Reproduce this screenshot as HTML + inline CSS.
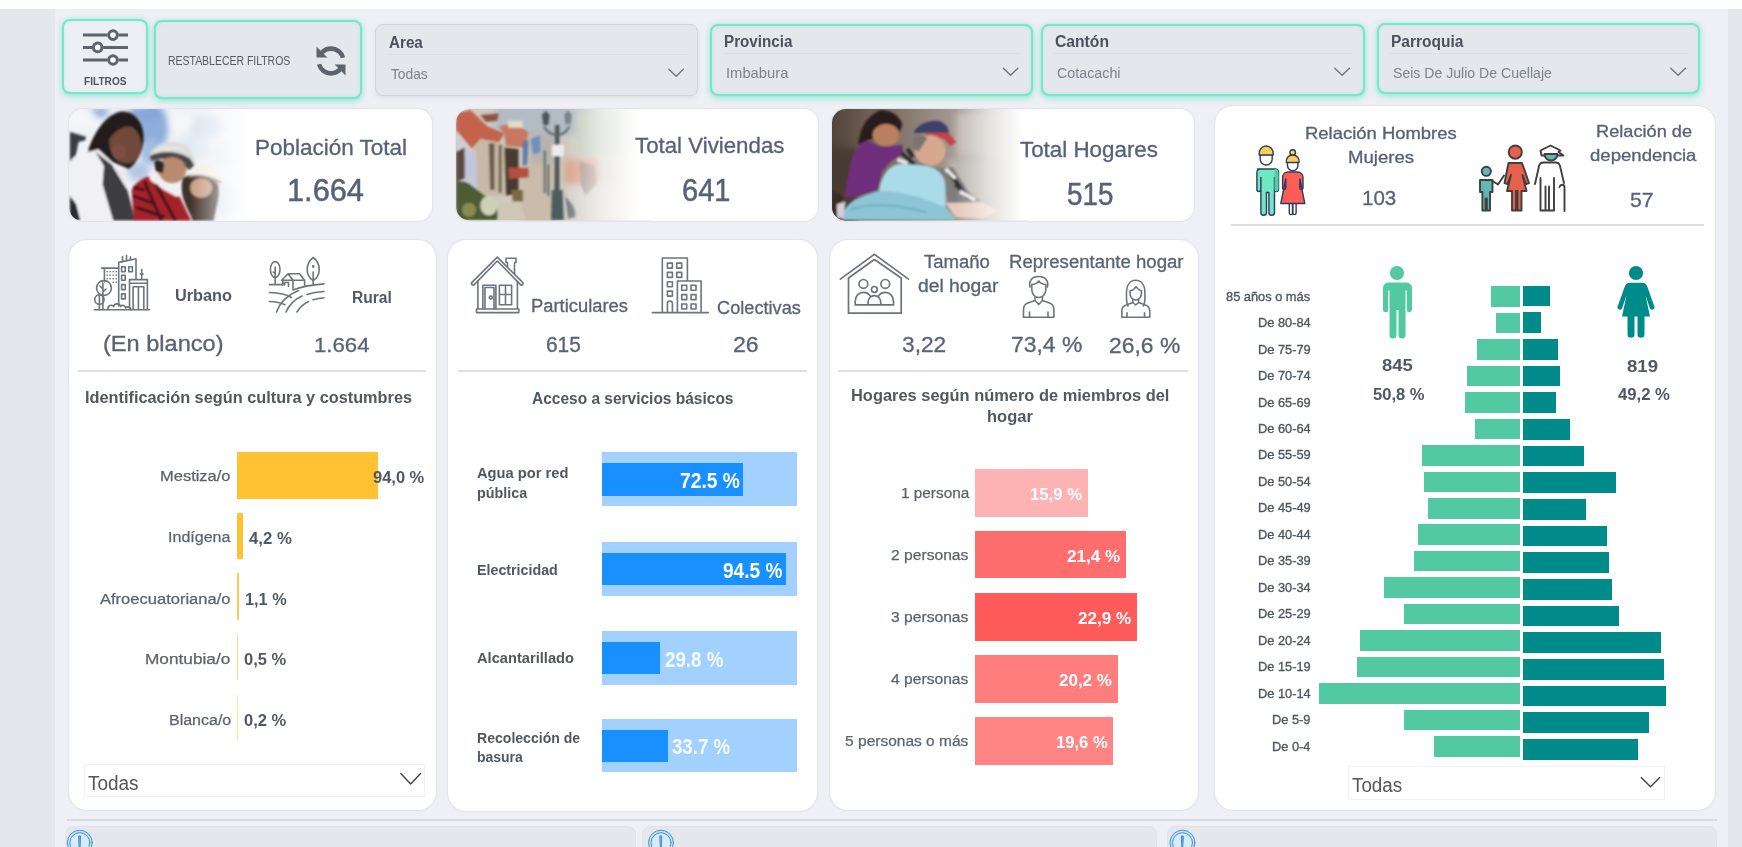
<!DOCTYPE html>
<html lang="es">
<head>
<meta charset="utf-8">
<title>Dashboard</title>
<style>
*{box-sizing:border-box;margin:0;padding:0}
html,body{width:1742px;height:847px;overflow:hidden;background:#eef0f5;font-family:"Liberation Sans",sans-serif;color:#525c69}
.abs{position:absolute}
#root{position:relative;width:1742px;height:847px;overflow:hidden;background:#eef0f5}
#topstrip{left:0;top:0;width:1742px;height:9px;background:#fff}
#leftm{left:0;top:9px;width:54.5px;height:838px;background:#e4e8ed}
#rightm{left:1728px;top:9px;width:14px;height:838px;background:#e4e8ed}
.fbox{position:absolute;border-radius:8px;background:#e4e7ec;border:2px solid #78e6ca;box-shadow:0 0 4px rgba(111,230,200,.5),0 3px 6px rgba(111,230,200,.5),inset 0 0 3px rgba(111,230,200,.35)}
.fbox.plain{border:1.5px solid #d0d4dd;box-shadow:0 2px 5px rgba(120,130,150,.15)}
.card{position:absolute;background:#fff;border-radius:14px;box-shadow:0 0 2px rgba(140,145,165,.4)}
.t{position:absolute;white-space:nowrap;line-height:1}
.c{transform:translateX(-50%)}
.b{font-weight:bold}
.hr{position:absolute;height:2px;background:#d9dce3}
.ftitle{position:absolute;font-weight:bold;font-size:16px;color:#4d5662;line-height:1;white-space:nowrap}
.fval{position:absolute;font-size:14px;color:#7a828d;line-height:1;white-space:nowrap}

</style>
</head>
<body>
<div id="root">
<div id="topstrip" class="abs"></div>
<div id="leftm" class="abs"></div>
<div id="rightm" class="abs"></div>

<!-- TOP BAR -->
<div class="fbox" id="b-filtros" style="left:62px;top:19px;width:86px;height:75px;background:#eceff3"></div>
<div class="fbox" id="b-rest" style="left:154px;top:20px;width:208px;height:79px"></div>
<div class="fbox plain" id="b-area" style="left:375px;top:23.5px;width:323.3px;height:72.8px"></div>
<div class="fbox" id="b-prov" style="left:710px;top:23.5px;width:323px;height:72px"></div>
<div class="fbox" id="b-cant" style="left:1041px;top:23.5px;width:323.5px;height:72px"></div>
<div class="fbox" id="b-parr" style="left:1377px;top:22.7px;width:323.3px;height:71.8px"></div>

<!-- KPI CARDS -->
<div class="card" id="k1" style="left:69px;top:109px;width:363px;height:112px"></div>
<div class="card" id="k2" style="left:456px;top:109px;width:362px;height:112px"></div>
<div class="card" id="k3" style="left:832px;top:109px;width:362px;height:112px"></div>

<!-- PANELS -->
<div class="card" id="p1" style="left:69px;top:240.4px;width:367.3px;height:570px;border-radius:18px"></div>
<div class="card" id="p2" style="left:448.4px;top:240.4px;width:368.8px;height:570.8px;border-radius:18px"></div>
<div class="card" id="p3" style="left:829.6px;top:240.4px;width:368px;height:569.2px;border-radius:18px"></div>
<div class="card" id="p4" style="left:1214.7px;top:105.6px;width:500.5px;height:704px;border-radius:18px"></div>

<!-- BOTTOM -->
<div class="abs" style="left:67px;top:818.6px;width:1650px;height:2px;background:#d6dae2"></div>
<div class="abs" style="left:65px;top:826px;width:571px;height:30px;background:#e4e7eb;border-radius:8px;border:1px solid #e0e3e8"></div>
<div class="abs" style="left:642px;top:826px;width:515px;height:30px;background:#e4e7eb;border-radius:8px;border:1px solid #e0e3e8"></div>
<div class="abs" style="left:1167px;top:826px;width:550px;height:30px;background:#e4e7eb;border-radius:8px;border:1px solid #e0e3e8"></div>

<!-- photo 1 -->
<svg class="abs" style="left:65px;top:105px;clip-path:inset(4px 0px 4px 4px round 14px 0 0 14px)" width="200" height="120" viewBox="0 0 1412 847" preserveAspectRatio="none">
<defs>
<filter id="bl1" x="-10%" y="-10%" width="120%" height="120%"><feGaussianBlur stdDeviation="6"/></filter>
<filter id="bl2" x="-10%" y="-10%" width="120%" height="120%"><feGaussianBlur stdDeviation="22"/></filter>
<filter id="bl3" x="-10%" y="-10%" width="120%" height="120%"><feGaussianBlur stdDeviation="9"/></filter>
<linearGradient id="fd1" x1="0" x2="1" y1="0" y2="0"><stop offset="0" stop-color="#fff" stop-opacity="0"/><stop offset=".5" stop-color="#fff" stop-opacity=".55"/><stop offset="1" stop-color="#fff"/></linearGradient>
</defs>
<rect x="0" y="0" width="1412" height="847" fill="#eef1f6"/>
<g filter="url(#bl2)">
<ellipse cx="620" cy="160" rx="110" ry="170" fill="#8eaedb"/><ellipse cx="560" cy="60" rx="120" ry="50" fill="#86a6d6"/>
<ellipse cx="240" cy="55" rx="70" ry="35" fill="#8aaad8"/>
<ellipse cx="610" cy="330" rx="80" ry="90" fill="#a3bce0"/>
<ellipse cx="520" cy="470" rx="80" ry="70" fill="#b4c8e4"/><ellipse cx="900" cy="300" rx="120" ry="90" fill="#e3eaf3"/><ellipse cx="1150" cy="350" rx="120" ry="90" fill="#e6ecf4"/>
<ellipse cx="1000" cy="150" rx="130" ry="80" fill="#dbe4f0"/>
<ellipse cx="820" cy="120" rx="90" ry="70" fill="#f4f6f9"/>
<ellipse cx="1100" cy="680" rx="130" ry="120" fill="#dfe6ef"/>
<ellipse cx="120" cy="110" rx="110" ry="80" fill="#f3f5f8"/>
</g>
<g filter="url(#bl3)">
<path d="M35 190L150 225L140 250L95 260L70 390L35 400z" fill="#3a3d43"/>
<path d="M35 640L80 700L110 815H35z" fill="#2b2b30"/>
<path d="M35 400C70 340 170 310 235 312L330 400L300 560L345 815H110L80 700L35 640z" fill="#f1f0f2"/>
<path d="M215 330L330 420L440 600L495 815H340L265 560L275 430z" fill="#3d3d43"/>
<path d="M330 420L400 470L470 700L440 600z" fill="#e9e6e6"/>
<path d="M160 330C200 200 290 60 400 45C500 45 560 130 555 240C550 330 500 420 450 450L330 400L235 312z" fill="#241d1b"/>
<ellipse cx="425" cy="275" rx="112" ry="140" fill="#70483a" transform="rotate(-12 425 275)"/>
<path d="M290 200C320 110 430 80 540 170C470 130 370 140 300 260z" fill="#241d1b"/>
<ellipse cx="380" cy="330" rx="50" ry="60" fill="#83574a" opacity=".6"/>
<path d="M600 360C600 300 700 250 790 262C870 275 925 350 915 420L850 470C800 400 680 370 615 395z" fill="#dcdcda"/>
<path d="M598 360C660 320 800 320 880 375L915 425L875 460C820 395 690 360 612 395z" fill="#3b3735" opacity=".9"/>
<path d="M640 320C700 270 800 275 860 330C790 305 700 305 640 345z" fill="#e4e4e2"/>
<ellipse cx="755" cy="460" rx="100" ry="92" fill="#b88b6f"/>
<path d="M630 400C650 380 690 390 700 420L690 480L640 470z" fill="#2c2624"/>
<path d="M470 600C500 540 560 510 600 500L720 610L810 650L890 815H485z" fill="#a5222b"/>
<path d="M590 480L640 470L720 560L770 620L800 610L790 650L700 600L600 530z" fill="#f0eeee"/>
<path d="M480 640L640 700M500 720L700 790M560 540L680 815M640 560L780 815M480 580L560 600" stroke="#2a1518" stroke-width="22" opacity=".8"/>
<path d="M830 520C880 470 1040 480 1080 560C1100 640 1060 740 1050 815H900C880 740 800 660 830 520z" fill="#3f3029"/>
<ellipse cx="960" cy="585" rx="78" ry="70" fill="#c79c82"/>
<path d="M900 470C920 410 1040 400 1060 460L1135 530C1140 550 1100 560 1060 540C1000 510 920 500 870 510z" fill="#f2eee4"/>
<path d="M880 500C940 480 1040 500 1110 545L1100 556C1030 520 940 505 876 515z" fill="#6a5a4e" opacity=".8"/>
</g>
<rect x="880" y="0" width="440" height="847" fill="url(#fd1)"/>
<rect x="1315" y="0" width="100" height="847" fill="#fff"/>
</svg>
<!-- photo 2 -->
<svg class="abs" style="left:452px;top:105px;clip-path:inset(4px 0px 4.5px 4px round 14px 0 0 14px)" width="200" height="120" viewBox="0 0 1412 847" preserveAspectRatio="none">
<defs><linearGradient id="fd2" x1="0" x2="1" y1="0" y2="0"><stop offset="0" stop-color="#fff" stop-opacity="0"/><stop offset=".45" stop-color="#fff" stop-opacity=".6"/><stop offset="1" stop-color="#fff"/></linearGradient></defs>
<rect x="0" y="0" width="1412" height="847" fill="#cfc9bf"/>
<g filter="url(#bl2)">
<rect x="300" y="0" width="700" height="210" fill="#b3bbc4"/>
<rect x="480" y="420" width="260" height="420" fill="#c9bcaa"/>
<rect x="800" y="380" width="240" height="190" fill="#dba08a"/>
<rect x="880" y="40" width="360" height="320" fill="#bfc6b6"/>
<rect x="800" y="560" width="400" height="280" fill="#d5d0c8"/>
<rect x="540" y="200" width="200" height="220" fill="#b9b3ad"/>
</g>
<g filter="url(#bl3)">
<path d="M30 60L130 35L250 150L370 200L330 265L200 240L140 310L30 180z" fill="#c3644b"/>
<path d="M200 70L330 60L320 110L240 120z" fill="#8a5544"/>
<path d="M330 150L440 130L540 190L520 300L380 290L370 200z" fill="#c87861"/>
<path d="M390 110H500V160H400z" fill="#e3dccb"/>
<path d="M30 180L140 310L130 540L30 540z" fill="#cdcdd2"/>
<path d="M30 330L90 300V520L30 540z" fill="#5a4a42"/>
<path d="M90 320L170 330L185 600L100 560z" fill="#c3c7dd"/>
<path d="M140 310L200 240L330 265L380 290L370 640L180 640L170 330z" fill="#c6baa6"/>
<path d="M260 270L300 270L300 600L270 600zM330 280L350 280L350 620L330 620z" fill="#6b5a4c"/>
<path d="M370 300L470 310L470 620L380 640z" fill="#4a3b32"/>
<path d="M400 440L540 445L540 510L400 520z" fill="#b4503f"/>
<path d="M30 540C120 520 160 600 250 650C300 640 330 700 320 812H30z" fill="#4e5b31"/>
<ellipse cx="260" cy="710" rx="60" ry="70" fill="#cdd2b6"/>
<ellipse cx="120" cy="740" rx="50" ry="50" fill="#8a8a52"/>
<path d="M330 700L480 680L520 812H330z" fill="#cfc6b6"/>
<path d="M420 600L500 600L500 680L430 680z" fill="#7a6a3e"/>
<path d="M555 240L620 215L625 330L575 350z" fill="#6c8fc3"/>
<path d="M500 250L540 250L530 420L500 430z" fill="#5d7aa8"/>
<path d="M728 140H758V812H722z" fill="#48555a"/>
<path d="M705 600L780 600L790 812H700z" fill="#4d5b5e"/>
<path d="M635 70L660 40L690 70L680 140H645z" fill="#4a5558"/>
<path d="M795 65L820 40L848 70L838 135H803z" fill="#737d7f"/>
<path d="M650 150C690 230 790 230 830 150" stroke="#5a6668" stroke-width="14" fill="none"/>
<rect x="705" y="280" width="86" height="80" fill="#ecece8"/>
<path d="M655 320V620M680 420V640" stroke="#4e5c5e" stroke-width="12"/>
<path d="M800 640C840 700 880 720 870 790L820 800z" fill="#59676a" opacity=".8"/>
<path d="M900 400L1010 430L1020 560L940 640L910 560z" fill="#8e8680" opacity=".7"/>
</g>
<rect x="800" y="0" width="520" height="847" fill="url(#fd2)"/>
<rect x="1315" y="0" width="100" height="847" fill="#fff"/>
</svg>
<!-- photo 3 -->
<svg class="abs" style="left:828px;top:105px;clip-path:inset(4px 0px 4.5px 4px round 14px 0 0 14px)" width="200" height="120" viewBox="0 0 1412 847" preserveAspectRatio="none">
<defs><linearGradient id="fd3" x1="0" x2="1" y1="0" y2="0"><stop offset="0" stop-color="#fff" stop-opacity="0"/><stop offset=".5" stop-color="#fff" stop-opacity=".6"/><stop offset="1" stop-color="#fff"/></linearGradient>
<linearGradient id="bg3" x1="0" x2="1" y1="0" y2="0"><stop offset="0" stop-color="#4f4036"/><stop offset=".3" stop-color="#7b6e63"/><stop offset=".6" stop-color="#a0968d"/><stop offset="1" stop-color="#c9c5c0"/></linearGradient></defs>
<rect x="0" y="0" width="1412" height="847" fill="url(#bg3)"/>
<g filter="url(#bl2)">
<rect x="0" y="300" width="200" height="540" fill="#4a3a31"/>
<rect x="850" y="380" width="400" height="300" fill="#b9b4ae"/>
<rect x="900" y="60" width="400" height="300" fill="#bfb9b1"/>
</g>
<g filter="url(#bl3)">
<path d="M215 280C220 180 260 90 360 38C440 30 500 70 525 135L500 210L300 240z" fill="#2b1f1b"/>
<ellipse cx="410" cy="212" rx="95" ry="78" fill="#b9805f"/>
<path d="M290 150C330 80 450 70 510 130C450 110 370 120 300 190z" fill="#2b1f1b"/>
<path d="M115 650L160 400C200 300 240 260 270 250L380 295L525 280L532 345L440 400L380 470L350 600L200 645z" fill="#6f2f7b"/>
<path d="M605 200C620 140 720 100 790 115C840 135 860 180 850 205L700 195z" fill="#3d4168"/>
<path d="M690 200L850 195L905 262L862 292L820 238L700 232z" fill="#c8424a"/>
<ellipse cx="722" cy="322" rx="108" ry="108" fill="#d8a88e"/>
<path d="M600 230C620 210 690 215 700 235L640 330L600 300z" fill="#7a7470"/>
<path d="M470 400L570 300L640 400L760 445L880 440L1000 620L1085 680L850 705L800 520L640 430z" fill="#807d7b"/>
<path d="M520 340L610 420M850 470L950 600M900 560L1000 660M560 310L600 370" stroke="#2a2a2c" stroke-width="30"/>
<path d="M490 385L560 410M830 450L900 520M930 610L1040 670" stroke="#ebebeb" stroke-width="24"/>
<path d="M360 610C380 480 440 420 520 415L700 430C780 450 830 500 828 580L830 720L360 640z" fill="#aadbe8"/>
<path d="M100 812C110 720 150 680 250 640L350 608C450 600 560 630 640 650L830 720L905 812z" fill="#8dc5d6"/>
<path d="M150 740C300 690 500 700 700 760" stroke="#6fb0c4" stroke-width="14" fill="none"/>
<path d="M830 690L1100 688L1200 750L1100 800L900 792z" fill="#e4c9bc"/>
<path d="M30 600L110 650L60 812H30z" fill="#392c26"/>
<path d="M62 700L125 680L110 800L65 800z" fill="#d6cbd6"/>
</g>
<rect x="900" y="0" width="480" height="847" fill="url(#fd3)"/>
<rect x="1375" y="0" width="40" height="847" fill="#fff"/>
</svg>

<div class="abs" style="left:77.6px;top:370.0px;width:348.5px;height:2.0px;background:#dcdfe6;"></div>
<div class="abs" style="left:457.8px;top:370.0px;width:349.2px;height:2.0px;background:#dcdfe6;"></div>
<div class="abs" style="left:837.8px;top:370.0px;width:350.2px;height:2.0px;background:#dcdfe6;"></div>
<div class="abs" style="left:1231.0px;top:224.0px;width:472.9px;height:2.0px;background:#dcdfe6;"></div>
<div class="abs" style="left:388.0px;top:53.5px;width:298.5px;height:1.0px;background:#dcdfe5;"></div>
<div class="abs" style="left:723.0px;top:52.5px;width:298.0px;height:1.0px;background:#dcdfe5;"></div>
<div class="abs" style="left:1054.0px;top:52.5px;width:299.0px;height:1.0px;background:#dcdfe5;"></div>
<div class="abs" style="left:1390.0px;top:52.5px;width:299.0px;height:1.0px;background:#dcdfe5;"></div>
<div class="abs" style="left:237.3px;top:452.2px;width:140.3px;height:46.5px;background:#ffc233;"></div>
<div class="abs" style="left:237.3px;top:513.0px;width:6.2px;height:46.4px;background:#ffc233;"></div>
<div class="abs" style="left:237.3px;top:573.3px;width:2.0px;height:46.3px;background:#ffcb55;"></div>
<div class="abs" style="left:237.3px;top:634.3px;width:1.0px;height:45.6px;background:#ffd980;"></div>
<div class="abs" style="left:237.3px;top:694.9px;width:0.7px;height:46.0px;background:#ffe6a8;"></div>
<div class="abs" style="left:84.0px;top:764.0px;width:340.6px;height:33.3px;background:#fff;border:1px solid #f1f1f1;"></div>
<div class="abs" style="left:602.0px;top:452.2px;width:195.1px;height:53.8px;background:#a3d1ff;"></div>
<div class="abs" style="left:602.0px;top:463.4px;width:141.4px;height:32.2px;background:#1890ff;"></div>
<div class="abs" style="left:602.0px;top:542.0px;width:195.1px;height:53.8px;background:#a3d1ff;"></div>
<div class="abs" style="left:602.0px;top:553.2px;width:184.4px;height:32.2px;background:#1890ff;"></div>
<div class="abs" style="left:602.0px;top:630.8px;width:195.1px;height:53.8px;background:#a3d1ff;"></div>
<div class="abs" style="left:602.0px;top:642.0px;width:58.1px;height:32.2px;background:#1890ff;"></div>
<div class="abs" style="left:602.0px;top:718.5px;width:195.1px;height:53.8px;background:#a3d1ff;"></div>
<div class="abs" style="left:602.0px;top:729.7px;width:65.7px;height:32.2px;background:#1890ff;"></div>
<div class="abs" style="left:975.0px;top:469.0px;width:112.8px;height:47.6px;background:#fdb3b3;"></div>
<div class="abs" style="left:975.0px;top:530.8px;width:151.2px;height:47.6px;background:#ff6e6e;"></div>
<div class="abs" style="left:975.0px;top:593.0px;width:162.0px;height:47.6px;background:#ff5b5b;"></div>
<div class="abs" style="left:975.0px;top:655.1px;width:142.7px;height:47.6px;background:#ff7d7d;"></div>
<div class="abs" style="left:975.0px;top:717.3px;width:138.4px;height:47.6px;background:#ff8585;"></div>
<div class="abs" style="left:1491.4px;top:286.2px;width:28.6px;height:20.5px;background:#52c9a1;"></div>
<div class="abs" style="left:1523.2px;top:285.6px;width:26.4px;height:20.8px;background:#008b8b;"></div>
<div class="abs" style="left:1495.8px;top:312.7px;width:24.2px;height:20.5px;background:#52c9a1;"></div>
<div class="abs" style="left:1523.2px;top:312.3px;width:17.6px;height:20.8px;background:#008b8b;"></div>
<div class="abs" style="left:1477.1px;top:339.1px;width:42.9px;height:20.5px;background:#52c9a1;"></div>
<div class="abs" style="left:1523.2px;top:338.9px;width:34.8px;height:20.8px;background:#008b8b;"></div>
<div class="abs" style="left:1467.2px;top:365.6px;width:52.8px;height:20.5px;background:#52c9a1;"></div>
<div class="abs" style="left:1523.2px;top:365.6px;width:36.6px;height:20.8px;background:#008b8b;"></div>
<div class="abs" style="left:1465.0px;top:392.1px;width:55.0px;height:20.5px;background:#52c9a1;"></div>
<div class="abs" style="left:1523.2px;top:392.3px;width:32.9px;height:20.8px;background:#008b8b;"></div>
<div class="abs" style="left:1475.3px;top:418.5px;width:44.7px;height:20.5px;background:#52c9a1;"></div>
<div class="abs" style="left:1523.2px;top:419.0px;width:46.9px;height:20.8px;background:#008b8b;"></div>
<div class="abs" style="left:1422.2px;top:445.0px;width:97.8px;height:20.5px;background:#52c9a1;"></div>
<div class="abs" style="left:1523.2px;top:445.6px;width:61.1px;height:20.8px;background:#008b8b;"></div>
<div class="abs" style="left:1424.0px;top:471.5px;width:96.0px;height:20.5px;background:#52c9a1;"></div>
<div class="abs" style="left:1523.2px;top:472.3px;width:92.6px;height:20.8px;background:#008b8b;"></div>
<div class="abs" style="left:1428.4px;top:498.0px;width:91.6px;height:20.5px;background:#52c9a1;"></div>
<div class="abs" style="left:1523.2px;top:499.0px;width:62.6px;height:20.8px;background:#008b8b;"></div>
<div class="abs" style="left:1418.2px;top:524.4px;width:101.8px;height:20.5px;background:#52c9a1;"></div>
<div class="abs" style="left:1523.2px;top:525.6px;width:83.6px;height:20.8px;background:#008b8b;"></div>
<div class="abs" style="left:1414.3px;top:550.9px;width:105.7px;height:20.5px;background:#52c9a1;"></div>
<div class="abs" style="left:1523.2px;top:552.3px;width:85.7px;height:20.8px;background:#008b8b;"></div>
<div class="abs" style="left:1383.8px;top:577.4px;width:136.2px;height:20.5px;background:#52c9a1;"></div>
<div class="abs" style="left:1523.2px;top:579.0px;width:88.8px;height:20.8px;background:#008b8b;"></div>
<div class="abs" style="left:1404.2px;top:603.8px;width:115.8px;height:20.5px;background:#52c9a1;"></div>
<div class="abs" style="left:1523.2px;top:605.6px;width:95.7px;height:20.8px;background:#008b8b;"></div>
<div class="abs" style="left:1359.5px;top:630.3px;width:160.5px;height:20.5px;background:#52c9a1;"></div>
<div class="abs" style="left:1523.2px;top:632.3px;width:137.8px;height:20.8px;background:#008b8b;"></div>
<div class="abs" style="left:1357.1px;top:656.8px;width:162.9px;height:20.5px;background:#52c9a1;"></div>
<div class="abs" style="left:1523.2px;top:659.0px;width:141.3px;height:20.8px;background:#008b8b;"></div>
<div class="abs" style="left:1318.5px;top:683.2px;width:201.5px;height:20.5px;background:#52c9a1;"></div>
<div class="abs" style="left:1523.2px;top:685.7px;width:143.2px;height:20.8px;background:#008b8b;"></div>
<div class="abs" style="left:1404.2px;top:709.7px;width:115.8px;height:20.5px;background:#52c9a1;"></div>
<div class="abs" style="left:1523.2px;top:712.3px;width:125.4px;height:20.8px;background:#008b8b;"></div>
<div class="abs" style="left:1434.4px;top:736.2px;width:85.6px;height:20.5px;background:#52c9a1;"></div>
<div class="abs" style="left:1523.2px;top:739.0px;width:115.0px;height:20.8px;background:#008b8b;"></div>
<div class="abs" style="left:1347.5px;top:766.0px;width:317.2px;height:33.8px;background:#fff;border:1px solid #f1f1f1;"></div>
<svg class="abs" style="left:0;top:0" width="1742" height="847" viewBox="0 0 1742 847" fill="none" stroke-linecap="round" stroke-linejoin="round">
<!-- filtros sliders -->
<g stroke="#5c636d" stroke-width="3" stroke-linecap="butt">
<path d="M83 35.1H107.5M118.5 35.1H128M83 47.4H92.2M103.2 47.4H128M83 60H107.5M118.5 60H128"/>
<circle cx="113" cy="35.1" r="4.3" fill="#fbfcfd"/><circle cx="97.7" cy="47.4" r="4.3" fill="#fbfcfd"/><circle cx="113" cy="60" r="4.3" fill="#fbfcfd"/>
</g>
<!-- refresh -->
<g id="refresh" fill="#5d646e" stroke="none">
<path d="M331 46.3a14.6 14.6 0 0 1 14.1 10.9l-4.3 1.1a10.2 10.2 0 0 0-17-4.4l3.6 3.6h-10.9v-10.9l4.1 4.1a14.6 14.6 0 0 1 10.4-4.4z"/>
<path d="M331 75.7a14.6 14.6 0 0 1-14.1-10.9l4.3-1.1a10.2 10.2 0 0 0 17 4.4l-3.6-3.6h10.9v10.9l-4.1-4.1a14.6 14.6 0 0 1-10.4 4.4z"/>
</g>
<!-- chevrons top -->
<g stroke="#6a717b" stroke-width="1.3">
<path d="M668.8 69.2l7.3 7 7.3-7"/>
<path d="M1003.3 68.2l7.3 7 7.3-7"/>
<path d="M1334.8 68.2l7.3 7 7.3-7"/>
<path d="M1670.8 68.2l7.3 7 7.3-7"/>
</g>
<g stroke="#444" stroke-width="1.4">
<path d="M400.8 773.5l9.9 10.5 9.9-10.5"/>
<path d="M1641.3 777.5l9.200 9.200 9.200-9.200"/>
</g>
<!-- urban -->
<g stroke="#6e747d" stroke-width="1.6">
<path d="M94.3 309.7H149.6"/>
<path d="M101.5 268.1H118.7M104.4 268.1V282"/>
<path d="M118.7 306V262.4L136 258.8V279M122.5 262V256.5M126.5 261V255.5M130.5 260V257"/>
<path d="M129.5 309V279.6H147.4V309M129.5 283.2H147.4M133.1 309V286.7H143.8V309M138.4 286.7V309M141.7 279.6V269.5M140.2 274H143.2"/>
<rect x="121.6" y="266.7" width="3.6" height="5"/><rect x="128.8" y="266.7" width="3.6" height="5"/>
<rect x="121.6" y="275.3" width="3.6" height="5"/><rect x="121.6" y="284.6" width="3.6" height="5"/><rect x="121.6" y="293.9" width="3.6" height="5"/>
<circle cx="104" cy="288" r="7.4"/><circle cx="99.4" cy="299.6" r="4.7"/>
<path d="M102.9 283V309.7M99.4 296V309.7M102.9 292l3-3M102.9 289l-3-3"/>
<path d="M108 309.5c-0.5-4 4-5.5 5.5-3c1-3.5 6-3.5 7 0c2-2 5-1 5 1.5c2-2 5.5-1 5 1.5"/>
</g>
<g fill="#6b727b" stroke="none">
<rect x="106.5" y="271" width="1.4" height="1.4"/><rect x="109.5" y="271" width="1.4" height="1.4"/><rect x="112.5" y="271" width="1.4" height="1.4"/><rect x="115.5" y="271" width="1.4" height="1.4"/>
<rect x="106.5" y="274.5" width="1.4" height="1.4"/><rect x="109.5" y="274.5" width="1.4" height="1.4"/><rect x="112.5" y="274.5" width="1.4" height="1.4"/><rect x="115.5" y="274.5" width="1.4" height="1.4"/>
<rect x="106.5" y="278" width="1.4" height="1.4"/><rect x="109.5" y="278" width="1.4" height="1.4"/><rect x="112.5" y="278" width="1.4" height="1.4"/><rect x="115.5" y="278" width="1.4" height="1.4"/>
<rect x="112.5" y="281.5" width="1.4" height="1.4"/><rect x="115.5" y="281.5" width="1.4" height="1.4"/>
</g>
<!-- rural -->
<g stroke="#6e747d" stroke-width="1.6">
<ellipse cx="275.2" cy="269.5" rx="4.8" ry="7.9"/><path d="M275.2 267V284M275.2 274l-2-2"/>
<path d="M313.2 257.5c8 6 8 18 0 23c-8-5-8-17 0-23z"/><path d="M313.2 272V284.5"/><circle cx="313.2" cy="266.5" r="0.6"/>
<path d="M281.6 280.3L288.1 273.8H299.6L304.6 280.3M288.1 273.8L293 280.3V289M281.6 280.3H304.6M282.8 280.3V285M304.6 280.3V286M284.5 285V282.5H288.5V286.5"/>
<path d="M269.4 284.6H282.8M293 290C302 286.5 313 284.8 324 283.9"/>
<path d="M269.4 292.5c9 .2 16.5 1.5 22 5M269.4 301.5c6 .2 11 1 15.5 3.2"/>
<path d="M276.5 312c3.5-9.5 11-17 22-21.5M286 312c3-7 8.500-12.500 16-16M307 294.500c5-1.500 10.500-2.500 17-3M297 312c2.500-4.500 6.500-8 11.500-10.500M313 299.800c3.500-1 7-1.700 11-2"/>
</g>
<!-- house (particulares) -->
<g stroke="#6e747d" stroke-width="1.6">
<path d="M474.2 284.600L497.3 261L520.400 284.600a1.500 1.500 0 0 0 2.200-2.200L497.300 257.100L472 282.400a1.500 1.500 0 0 0 2.200 2.200z"/>
<path d="M477.900 281V309M517.400 281.500V309M476.500 309H518.800V312.600H476.500z"/>
<path d="M507.500 266.500V262.500H506V258.200H516V262.500H514.500V273.500"/>
<path d="M482.900 309V285.300H495.900V309M485 309V287.500H494V309"/><circle cx="490.800" cy="297.500" r="1.500"/>
<path d="M499.400 285.300H511.600V304.700H499.400zM505.500 285.300V304.700M499.400 294.500H511.600"/>
</g>
<!-- buildings (colectivas) -->
<g stroke="#6e747d" stroke-width="1.6">
<path d="M652.3 312.600H708.300M662.300 312.600V258H687.400V281M677.400 312.600V281H701.100V312.600M667.400 312.600V303.500a2.500 2.500 0 0 1 5 0V312.600"/>
<rect x="667.400" y="263.100" width="5" height="5"/><rect x="676.700" y="263.100" width="5" height="5"/>
<rect x="667.400" y="272.400" width="5" height="5"/><rect x="676.700" y="272.400" width="5" height="5"/>
<rect x="667.400" y="281.700" width="5" height="5"/><rect x="667.400" y="291.100" width="5" height="5"/>
<rect x="681.700" y="285.300" width="5" height="5"/><rect x="691" y="285.300" width="5" height="5"/>
<rect x="681.700" y="294.600" width="5" height="5"/><rect x="691" y="294.600" width="5" height="5"/>
<rect x="681.700" y="304" width="5" height="5"/><rect x="691" y="304" width="5" height="5"/>
</g>
<!-- family house -->
<g stroke="#6e747d" stroke-width="1.7">
<path d="M840.300 279.100L874.400 254.300L908.500 279.100M848.500 278V313.200H901.200V278M848.500 278L874.400 259.500L901.200 278"/>
<circle cx="863.400" cy="283.900" r="4.400"/><circle cx="885.300" cy="283.900" r="4.400"/><circle cx="874.400" cy="289.400" r="2.900"/>
<path d="M855.200 304.900v-3.500c0-5.500 3.700-9 8.200-9c3 0 5.600 1.500 7 4M893.500 304.900v-3.500c0-5.500-3.700-9-8.200-9c-3 0-5.600 1.500-7 4M868 304.900v-2.500c0-4 2.900-6.800 6.400-6.800s6.400 2.800 6.400 6.800v2.500M855.200 304.900H893.500"/>
</g>
<!-- man bust -->
<g stroke="#6e747d" stroke-width="1.6">
<path d="M1030 287c-1.500-6 2-10.500 8.700-10.500s10.200 4.500 8.700 10.500"/>
<path d="M1031.800 284.500c3 0 5.500-1.500 7-3.500c1.500 2 4 3.500 7 3.500v5c0 4.500-3 8-7 8s-7-3.500-7-8z"/>
<path d="M1035 297v3.500l3.700 4l3.700-4V297M1035 300.500l-7 2.500c-3 1-4.500 3.500-4.500 6.500v7.800h30.400v-7.800c0-3-1.500-5.500-4.500-6.500l-7-2.500M1029.500 317v-5M1048 317v-5"/>
</g>
<!-- woman bust -->
<g stroke="#6e747d" stroke-width="1.6">
<path d="M1128 306c-2-3-1.500-8-1.500-13c0-8 3.500-12.800 9.200-12.800s9.200 4.800 9.200 12.800c0 5 .5 10-1.500 13"/>
<path d="M1130 291c2.500-.5 5-2.500 6-4.500c1 2 3 3.500 5.500 4.200v2.300c0 4-2.500 7-5.800 7s-5.700-3-5.700-7z"/>
<path d="M1132.800 299.500v3l2.900 2.500l2.900-2.500v-3M1132.800 302.500l-6.500 2.500c-3 1-4.500 3.500-4.500 6.300v6h28v-6c0-2.800-1.500-5.300-4.500-6.300l-6.500-2.500M1127 317.300v-4.500M1144.500 317.300v-4.500"/>
</g>
<!-- man+woman colored -->
<g stroke="#2f3b5c" stroke-width="1.400">
<path d="M1257.500 169h17.500a3.500 3.500 0 0 1 3.500 3.500v17a2 2 0 0 1-4 0v-12v35a2.800 2.800 0 0 1-5.600 0v-20h-2.400v20a2.800 2.800 0 0 1-5.600 0v-35v12a2 2 0 0 1-4 0v-17a3.500 3.500 0 0 1 3.500-3.500z" fill="#6ee8c3"/>
<path d="M1274.500 169h0.500a3.500 3.500 0 0 1 3.500 3.500v17a2 2 0 0 1-4 0z" fill="#4fcfa8" stroke="none"/>
<path d="M1260.200 154.500v4.500a6 6 0 0 0 12 0v-4.500z" fill="#fff"/>
<path d="M1259.200 155c-.5-5 2.500-9 7-9s7.500 4 7 9z" fill="#f7d154"/>
<path d="M1287.500 162v3.500a5.200 5.200 0 0 0 10.400 0V162z" fill="#fff"/>
<circle cx="1292.700" cy="152.500" r="2.800" fill="#f7d154"/>
<path d="M1286.300 162.500c-.5-4.500 2.500-7.500 6.400-7.500s6.900 3 6.400 7.500z" fill="#f7d154"/>
<path d="M1289.300 203.500v9.500a1.600 1.600 0 0 0 3.200 0v-9.500M1292.900 203.500v9.500a1.600 1.600 0 0 0 3.200 0v-9.500" fill="#fff"/>
<path d="M1288 172h9.500c3.500 0 5.500 2.500 5.500 5.500v10.500a1.600 1.600 0 0 1-3.200 0v-9l5 24.500h-24l5-24.500v9a1.600 1.600 0 0 1-3.200 0v-10.500c0-3 2-5.500 5.400-5.500z" fill="#ff5e57"/>
</g>
<!-- dependency -->
<g stroke="#3f3f3f" stroke-width="1.900">
<circle cx="1486.300" cy="171.300" r="4.600" fill="#5fb8b3"/>
<path d="M1480 180h12.500v12h-2.500v18.500h-3.200v-12h-1.200v12h-3.200v-18.500h-2.400z" fill="#5fb8b3"/>
<path d="M1492.500 181l5.500 3.500l6-9" fill="none"/>
<circle cx="1515.300" cy="152.100" r="6.600" fill="#e8604c"/>
<path d="M1508.500 163h13.500l7 20l-3 1l-3.500-9l4 16h-5v19.500h-4v-19.500h-1.500v19.500h-4v-19.500h-5l4-16l-3.500 9l-3-1z" fill="#e8604c"/>
<path d="M1540.500 150.500l10-5l10 5l-2 1.500l5 3.500h-22z" fill="#fff"/>
<path d="M1544.500 154a6.500 6.500 0 0 0 13 0z" fill="#5fb8b3"/>
<path d="M1535 184l4-18c.5-2 2-3.500 4.500-3.500h12c2.500 0 4 1.500 4.500 3.500l4 17M1540.500 178v32.500h5v-24M1545.500 210.500h3.500M1549 186.500v24h5v-32.500" fill="none"/>
<path d="M1559.500 187c1-3 5-3 5 .5v23.500" fill="none"/>
</g>
<!-- male pictogram -->
<g fill="#52c9a1" stroke="none">
<circle cx="1397" cy="273" r="7.1"/>
<path d="M1387.500 282.500h19a5.500 5.500 0 0 1 5.500 5.500v21.500a2.600 2.600 0 0 1-5.200 0v-19h-1.300v44.500a3.500 3.500 0 0 1-7 0v-25h-2v25a3.500 3.500 0 0 1-7 0v-44.500h-1.300v19a2.600 2.600 0 0 1-5.200 0v-21.500a5.500 5.500 0 0 1 5.500-5.500z"/>
</g>
<!-- female pictogram -->
<g fill="#008b8b" stroke="none">
<circle cx="1636" cy="273" r="7.1"/>
<path d="M1630 282.7H1642C1644.8 282.7 1646.6 284.3 1647.4 286.9L1654.4 306.4A2.4 2.4 0 0 1 1649.8 307.9L1645.5 295.4L1650 316.500H1644.500V334.300A3.500 3.500 0 0 1 1637.500 334.300V316.500H1634.500V334.300A3.500 3.500 0 0 1 1627.500 334.300V316.500H1622L1626.500 295.400L1622.200 307.900A2.400 2.400 0 0 1 1617.600 306.400L1624.600 286.900C1625.400 284.300 1627.200 282.700 1630 282.700Z"/>
</g>
<!-- info icons -->
<g stroke="#4a8fc9" stroke-width="1">
<circle cx="79.800" cy="842.700" r="12.500" fill="#bfe4fb"/><circle cx="79.800" cy="842.700" r="10" fill="#d4ecfc"/>
<circle cx="661" cy="842.700" r="12.500" fill="#bfe4fb"/><circle cx="661" cy="842.700" r="10" fill="#d4ecfc"/>
<circle cx="1182.500" cy="842.700" r="12.500" fill="#bfe4fb"/><circle cx="1182.500" cy="842.700" r="10" fill="#d4ecfc"/>
<path d="M79 836h1.600l-.5 11h-.6zM660.200 836h1.600l-.5 11h-.6zM1181.700 836h1.600l-.5 11h-.6z" fill="#5aa0d8"/>
</g>

</svg>

<div class="t" style="left:83.5px;top:75.7px;font-size:11px;transform:scaleX(0.919);transform-origin:0 0;font-weight:bold;color:#4d5560;">FILTROS</div>
<div class="t" style="left:168.4px;top:54.7px;font-size:12px;transform:scaleX(0.872);transform-origin:0 0;color:#555d68;">RESTABLECER FILTROS</div>
<div class="t" style="left:388.5px;top:35.1px;font-size:16px;transform:scaleX(0.951);transform-origin:0 0;font-weight:bold;color:#4a525d;">Area</div>
<div class="t" style="left:390.7px;top:66.8px;font-size:14px;transform:scaleX(0.982);transform-origin:0 0;color:#7b838e;">Todas</div>
<div class="t" style="left:723.5px;top:34.1px;font-size:16px;transform:scaleX(0.949);transform-origin:0 0;font-weight:bold;color:#4a525d;">Provincia</div>
<div class="t" style="left:725.5px;top:65.8px;font-size:14px;transform:scaleX(1.055);transform-origin:0 0;color:#7b838e;">Imbabura</div>
<div class="t" style="left:1054.5px;top:34.1px;font-size:16px;transform:scaleX(0.980);transform-origin:0 0;font-weight:bold;color:#4a525d;">Cantón</div>
<div class="t" style="left:1056.5px;top:65.8px;font-size:14px;transform:scaleX(1.020);transform-origin:0 0;color:#7b838e;">Cotacachi</div>
<div class="t" style="left:1391.0px;top:34.1px;font-size:16px;transform:scaleX(0.969);transform-origin:0 0;font-weight:bold;color:#4a525d;">Parroquia</div>
<div class="t" style="left:1392.5px;top:65.8px;font-size:14px;transform:scaleX(1.006);transform-origin:0 0;color:#7b838e;">Seis De Julio De Cuellaje</div>
<div class="t" style="left:255.2px;top:138.1px;font-size:21.5px;transform:scaleX(1.046);transform-origin:0 0;color:#56627a;-webkit-text-stroke:0.3px #56627a;">Población Total</div>
<div class="t" style="left:286.9px;top:175.2px;font-size:31px;transform:scaleX(0.992);transform-origin:0 0;color:#56627a;-webkit-text-stroke:0.5px #56627a;">1.664</div>
<div class="t" style="left:634.8px;top:135.9px;font-size:21.5px;transform:scaleX(1.036);transform-origin:0 0;color:#56627a;-webkit-text-stroke:0.3px #56627a;">Total Viviendas</div>
<div class="t" style="left:682.3px;top:175.2px;font-size:31px;transform:scaleX(0.937);transform-origin:0 0;color:#56627a;-webkit-text-stroke:0.5px #56627a;">641</div>
<div class="t" style="left:1020.0px;top:140.3px;font-size:21.5px;transform:scaleX(1.040);transform-origin:0 0;color:#56627a;-webkit-text-stroke:0.3px #56627a;">Total Hogares</div>
<div class="t" style="left:1067.4px;top:178.9px;font-size:31px;transform:scaleX(0.898);transform-origin:0 0;color:#56627a;-webkit-text-stroke:0.5px #56627a;">515</div>
<div class="t" style="left:1305.1px;top:124.7px;font-size:16.5px;transform:scaleX(1.118);transform-origin:0 0;color:#56627a;-webkit-text-stroke:0.3px #56627a;">Relación Hombres</div>
<div class="t" style="left:1347.8px;top:149.4px;font-size:16.5px;transform:scaleX(1.125);transform-origin:0 0;color:#56627a;-webkit-text-stroke:0.3px #56627a;">Mujeres</div>
<div class="t" style="left:1362.0px;top:187.4px;font-size:21px;transform:scaleX(0.978);transform-origin:0 0;color:#56627a;-webkit-text-stroke:0.3px #56627a;">103</div>
<div class="t" style="left:1595.5px;top:122.7px;font-size:16.5px;transform:scaleX(1.102);transform-origin:0 0;color:#56627a;-webkit-text-stroke:0.3px #56627a;">Relación de</div>
<div class="t" style="left:1589.9px;top:147.4px;font-size:16.5px;transform:scaleX(1.126);transform-origin:0 0;color:#56627a;-webkit-text-stroke:0.3px #56627a;">dependencia</div>
<div class="t" style="left:1629.8px;top:189.3px;font-size:21px;transform:scaleX(1.012);transform-origin:0 0;color:#56627a;-webkit-text-stroke:0.3px #56627a;">57</div>
<div class="t" style="left:175.3px;top:287.5px;font-size:16px;transform:scaleX(1.018);transform-origin:0 0;font-weight:bold;color:#505863;">Urbano</div>
<div class="t" style="left:351.7px;top:289.6px;font-size:16px;transform:scaleX(0.974);transform-origin:0 0;font-weight:bold;color:#505863;">Rural</div>
<div class="t" style="left:103.1px;top:334.0px;font-size:21.5px;transform:scaleX(1.096);transform-origin:0 0;color:#586374;-webkit-text-stroke:0.3px #586374;">(En blanco)</div>
<div class="t" style="left:313.5px;top:334.4px;font-size:21px;transform:scaleX(1.057);transform-origin:0 0;color:#586374;-webkit-text-stroke:0.3px #586374;">1.664</div>
<div class="t" style="left:85.4px;top:390.1px;font-size:16px;transform:scaleX(1.019);transform-origin:0 0;font-weight:bold;color:#505863;">Identificación según cultura y costumbres</div>
<div class="t" style="left:160.2px;top:467.9px;font-size:15.5px;transform:scaleX(1.063);transform-origin:0 0;color:#5b636e;-webkit-text-stroke:0.25px #5b636e;">Mestiza/o</div>
<div class="t" style="left:372.5px;top:469.8px;font-size:16px;transform:scaleX(1.029);transform-origin:0 0;font-weight:bold;color:#505863;">94,0 %</div>
<div class="t" style="left:168.2px;top:529.3px;font-size:15.5px;transform:scaleX(1.035);transform-origin:0 0;color:#5b636e;-webkit-text-stroke:0.25px #5b636e;">Indígena</div>
<div class="t" style="left:249.3px;top:530.5px;font-size:16px;transform:scaleX(1.047);transform-origin:0 0;font-weight:bold;color:#505863;">4,2 %</div>
<div class="t" style="left:100.2px;top:590.7px;font-size:15.5px;transform:scaleX(1.066);transform-origin:0 0;color:#5b636e;-webkit-text-stroke:0.25px #5b636e;">Afroecuatoriana/o</div>
<div class="t" style="left:245.4px;top:591.5px;font-size:16px;transform:scaleX(1.020);transform-origin:0 0;font-weight:bold;color:#505863;">1,1 %</div>
<div class="t" style="left:145.4px;top:650.5px;font-size:15.5px;transform:scaleX(1.112);transform-origin:0 0;color:#5b636e;-webkit-text-stroke:0.25px #5b636e;">Montubia/o</div>
<div class="t" style="left:243.8px;top:651.7px;font-size:16px;transform:scaleX(1.030);transform-origin:0 0;font-weight:bold;color:#505863;">0,5 %</div>
<div class="t" style="left:168.5px;top:711.6px;font-size:15.5px;transform:scaleX(1.032);transform-origin:0 0;color:#5b636e;-webkit-text-stroke:0.25px #5b636e;">Blanca/o</div>
<div class="t" style="left:243.8px;top:712.7px;font-size:16px;transform:scaleX(1.030);transform-origin:0 0;font-weight:bold;color:#505863;">0,2 %</div>
<div class="t" style="left:87.8px;top:773.4px;font-size:20px;transform:scaleX(0.948);transform-origin:0 0;color:#555;">Todas</div>
<div class="t" style="left:530.7px;top:297.0px;font-size:18px;transform:scaleX(1.020);transform-origin:0 0;color:#586374;-webkit-text-stroke:0.3px #586374;">Particulares</div>
<div class="t" style="left:716.7px;top:298.7px;font-size:18px;transform:scaleX(1.010);transform-origin:0 0;color:#586374;-webkit-text-stroke:0.3px #586374;">Colectivas</div>
<div class="t" style="left:545.5px;top:335.1px;font-size:21.5px;transform:scaleX(0.972);transform-origin:0 0;color:#586374;-webkit-text-stroke:0.3px #586374;">615</div>
<div class="t" style="left:732.8px;top:335.1px;font-size:21.5px;transform:scaleX(1.073);transform-origin:0 0;color:#586374;-webkit-text-stroke:0.3px #586374;">26</div>
<div class="t" style="left:531.8px;top:391.1px;font-size:16px;transform:scaleX(0.968);transform-origin:0 0;font-weight:bold;color:#505863;">Acceso a servicios básicos</div>
<div class="t" style="left:477.0px;top:465.9px;font-size:14.5px;transform:scaleX(1.013);transform-origin:0 0;font-weight:bold;color:#505863;">Agua por red</div>
<div class="t" style="left:477.0px;top:485.5px;font-size:14.5px;transform:scaleX(0.988);transform-origin:0 0;font-weight:bold;color:#505863;">pública</div>
<div class="t" style="left:477.0px;top:562.9px;font-size:14.5px;transform:scaleX(0.983);transform-origin:0 0;font-weight:bold;color:#505863;">Electricidad</div>
<div class="t" style="left:477.0px;top:651.3px;font-size:14.5px;transform:scaleX(1.011);transform-origin:0 0;font-weight:bold;color:#505863;">Alcantarillado</div>
<div class="t" style="left:477.0px;top:730.9px;font-size:14.5px;transform:scaleX(0.970);transform-origin:0 0;font-weight:bold;color:#505863;">Recolección de</div>
<div class="t" style="left:477.0px;top:750.2px;font-size:14.5px;transform:scaleX(0.964);transform-origin:0 0;font-weight:bold;color:#505863;">basura</div>
<div class="t" style="left:679.7px;top:471.0px;font-size:21.5px;transform:scaleX(0.894);transform-origin:0 0;font-weight:bold;color:#fff;">72.5 %</div>
<div class="t" style="left:722.6px;top:560.8px;font-size:21.5px;transform:scaleX(0.888);transform-origin:0 0;font-weight:bold;color:#fff;">94.5 %</div>
<div class="t" style="left:664.7px;top:650.1px;font-size:21.5px;transform:scaleX(0.871);transform-origin:0 0;font-weight:bold;color:#f4faff;">29.8 %</div>
<div class="t" style="left:672.0px;top:737.3px;font-size:21.5px;transform:scaleX(0.866);transform-origin:0 0;font-weight:bold;color:#f4faff;">33.7 %</div>
<div class="t" style="left:924.4px;top:252.5px;font-size:18px;transform:scaleX(1.027);transform-origin:0 0;color:#586374;-webkit-text-stroke:0.3px #586374;">Tamaño</div>
<div class="t" style="left:917.6px;top:277.1px;font-size:18px;transform:scaleX(1.071);transform-origin:0 0;color:#586374;-webkit-text-stroke:0.3px #586374;">del hogar</div>
<div class="t" style="left:1009.0px;top:252.5px;font-size:18px;transform:scaleX(1.032);transform-origin:0 0;color:#586374;-webkit-text-stroke:0.3px #586374;">Representante hogar</div>
<div class="t" style="left:901.5px;top:333.6px;font-size:22px;transform:scaleX(1.033);transform-origin:0 0;color:#586374;-webkit-text-stroke:0.3px #586374;">3,22</div>
<div class="t" style="left:1010.7px;top:333.6px;font-size:22px;transform:scaleX(1.040);transform-origin:0 0;color:#586374;-webkit-text-stroke:0.3px #586374;">73,4 %</div>
<div class="t" style="left:1109.3px;top:335.4px;font-size:22px;transform:scaleX(1.040);transform-origin:0 0;color:#586374;-webkit-text-stroke:0.3px #586374;">26,6 %</div>
<div class="t" style="left:850.8px;top:387.7px;font-size:16px;transform:scaleX(1.026);transform-origin:0 0;font-weight:bold;color:#505863;">Hogares según número de miembros del</div>
<div class="t" style="left:987.1px;top:408.9px;font-size:16px;transform:scaleX(1.032);transform-origin:0 0;font-weight:bold;color:#505863;">hogar</div>
<div class="t" style="left:900.5px;top:485.0px;font-size:15.5px;transform:scaleX(0.990);transform-origin:0 0;color:#5b636e;-webkit-text-stroke:0.25px #5b636e;">1 persona</div>
<div class="t" style="left:1029.9px;top:487.0px;font-size:16px;transform:scaleX(1.045);transform-origin:0 0;font-weight:bold;color:#fff;">15,9 %</div>
<div class="t" style="left:891.4px;top:547.4px;font-size:15.5px;transform:scaleX(1.009);transform-origin:0 0;color:#5b636e;-webkit-text-stroke:0.25px #5b636e;">2 personas</div>
<div class="t" style="left:1067.1px;top:549.0px;font-size:16px;transform:scaleX(1.069);transform-origin:0 0;font-weight:bold;color:#fff;">21,4 %</div>
<div class="t" style="left:891.4px;top:609.2px;font-size:15.5px;transform:scaleX(1.009);transform-origin:0 0;color:#5b636e;-webkit-text-stroke:0.25px #5b636e;">3 personas</div>
<div class="t" style="left:1077.9px;top:610.7px;font-size:16px;transform:scaleX(1.069);transform-origin:0 0;font-weight:bold;color:#fff;">22,9 %</div>
<div class="t" style="left:891.4px;top:671.0px;font-size:15.5px;transform:scaleX(1.009);transform-origin:0 0;color:#5b636e;-webkit-text-stroke:0.25px #5b636e;">4 personas</div>
<div class="t" style="left:1059.4px;top:672.5px;font-size:16px;transform:scaleX(1.061);transform-origin:0 0;font-weight:bold;color:#fff;">20,2 %</div>
<div class="t" style="left:845.1px;top:732.8px;font-size:15.5px;color:#5b636e;-webkit-text-stroke:0.25px #5b636e;">5 personas o más</div>
<div class="t" style="left:1056.3px;top:735.1px;font-size:16px;transform:scaleX(1.037);transform-origin:0 0;font-weight:bold;color:#fff;">19,6 %</div>
<div class="t" style="left:1226.4px;top:289.6px;font-size:13px;transform:scaleX(0.986);transform-origin:0 0;color:#4f5762;-webkit-text-stroke:0.35px #4f5762;">85 años o más</div>
<div class="t" style="left:1257.8px;top:316.1px;font-size:13px;transform:scaleX(0.986);transform-origin:0 0;color:#4f5762;-webkit-text-stroke:0.35px #4f5762;">De 80-84</div>
<div class="t" style="left:1257.8px;top:342.5px;font-size:13px;transform:scaleX(0.986);transform-origin:0 0;color:#4f5762;-webkit-text-stroke:0.35px #4f5762;">De 75-79</div>
<div class="t" style="left:1257.8px;top:369.0px;font-size:13px;transform:scaleX(0.986);transform-origin:0 0;color:#4f5762;-webkit-text-stroke:0.35px #4f5762;">De 70-74</div>
<div class="t" style="left:1257.8px;top:395.5px;font-size:13px;transform:scaleX(0.986);transform-origin:0 0;color:#4f5762;-webkit-text-stroke:0.35px #4f5762;">De 65-69</div>
<div class="t" style="left:1257.8px;top:421.9px;font-size:13px;transform:scaleX(0.986);transform-origin:0 0;color:#4f5762;-webkit-text-stroke:0.35px #4f5762;">De 60-64</div>
<div class="t" style="left:1257.8px;top:448.4px;font-size:13px;transform:scaleX(0.986);transform-origin:0 0;color:#4f5762;-webkit-text-stroke:0.35px #4f5762;">De 55-59</div>
<div class="t" style="left:1257.8px;top:474.9px;font-size:13px;transform:scaleX(0.986);transform-origin:0 0;color:#4f5762;-webkit-text-stroke:0.35px #4f5762;">De 50-54</div>
<div class="t" style="left:1257.8px;top:501.4px;font-size:13px;transform:scaleX(0.986);transform-origin:0 0;color:#4f5762;-webkit-text-stroke:0.35px #4f5762;">De 45-49</div>
<div class="t" style="left:1257.8px;top:527.8px;font-size:13px;transform:scaleX(0.986);transform-origin:0 0;color:#4f5762;-webkit-text-stroke:0.35px #4f5762;">De 40-44</div>
<div class="t" style="left:1257.8px;top:554.3px;font-size:13px;transform:scaleX(0.986);transform-origin:0 0;color:#4f5762;-webkit-text-stroke:0.35px #4f5762;">De 35-39</div>
<div class="t" style="left:1257.8px;top:580.8px;font-size:13px;transform:scaleX(0.986);transform-origin:0 0;color:#4f5762;-webkit-text-stroke:0.35px #4f5762;">De 30-34</div>
<div class="t" style="left:1257.8px;top:607.2px;font-size:13px;transform:scaleX(0.986);transform-origin:0 0;color:#4f5762;-webkit-text-stroke:0.35px #4f5762;">De 25-29</div>
<div class="t" style="left:1257.8px;top:633.7px;font-size:13px;transform:scaleX(0.986);transform-origin:0 0;color:#4f5762;-webkit-text-stroke:0.35px #4f5762;">De 20-24</div>
<div class="t" style="left:1257.8px;top:660.2px;font-size:13px;transform:scaleX(0.986);transform-origin:0 0;color:#4f5762;-webkit-text-stroke:0.35px #4f5762;">De 15-19</div>
<div class="t" style="left:1257.8px;top:686.6px;font-size:13px;transform:scaleX(0.986);transform-origin:0 0;color:#4f5762;-webkit-text-stroke:0.35px #4f5762;">De 10-14</div>
<div class="t" style="left:1272.0px;top:713.1px;font-size:13px;transform:scaleX(0.986);transform-origin:0 0;color:#4f5762;-webkit-text-stroke:0.35px #4f5762;">De 5-9</div>
<div class="t" style="left:1272.0px;top:739.6px;font-size:13px;transform:scaleX(0.986);transform-origin:0 0;color:#4f5762;-webkit-text-stroke:0.35px #4f5762;">De 0-4</div>
<div class="t" style="left:1381.9px;top:356.5px;font-size:17px;transform:scaleX(1.085);transform-origin:0 0;font-weight:bold;color:#505863;">845</div>
<div class="t" style="left:1373.1px;top:387.4px;font-size:16px;transform:scaleX(1.035);transform-origin:0 0;font-weight:bold;color:#505863;">50,8 %</div>
<div class="t" style="left:1627.2px;top:357.6px;font-size:17px;transform:scaleX(1.095);transform-origin:0 0;font-weight:bold;color:#505863;">819</div>
<div class="t" style="left:1617.6px;top:387.4px;font-size:16px;transform:scaleX(1.043);transform-origin:0 0;font-weight:bold;color:#505863;">49,2 %</div>
<div class="t" style="left:1351.7px;top:775.3px;font-size:20px;transform:scaleX(0.940);transform-origin:0 0;color:#555;">Todas</div>
</div>
</body>
</html>
